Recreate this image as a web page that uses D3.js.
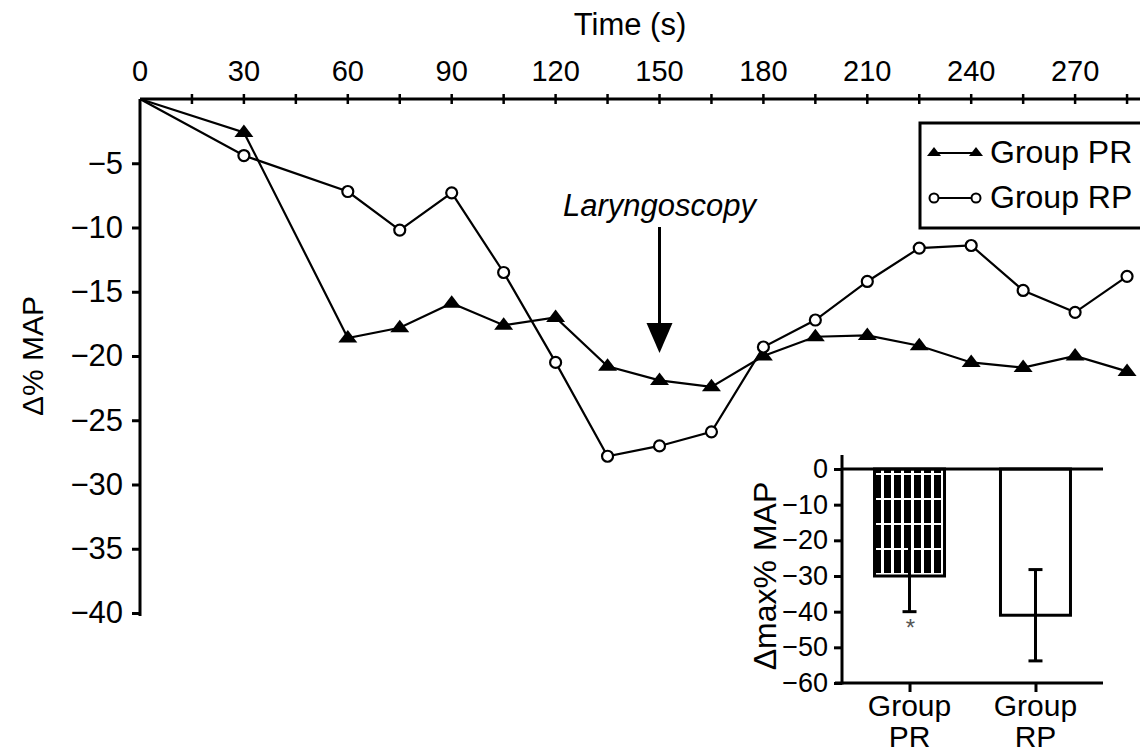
<!DOCTYPE html>
<html>
<head>
<meta charset="utf-8">
<script src="https://cdn.jsdelivr.net/npm/d3@7"></script>
<style>
  body { margin: 0; background: #fff; }
  svg { display: block; }
  text { font-family: "Liberation Sans", Arial, Helvetica, sans-serif; fill: #000; }
</style>
</head>
<body>
<svg id="chart" width="1140" height="754"></svg>
<script>
// ---- Main panel data: change in mean arterial pressure over time ----
const times   = [0, 30, 60, 75, 90, 105, 120, 135, 150, 165, 180, 195, 210, 225, 240, 255, 270, 285];
const groupPR = [0, -2.6, -18.6, -17.8, -15.9, -17.6, -17.0, -20.8, -21.9, -22.4, -20.0, -18.5, -18.4, -19.2, -20.5, -20.9, -20.0, -21.2];
const groupRP = [0, -4.4, -7.2, -10.2, -7.3, -13.5, -20.5, -27.8, -27.0, -25.9, -19.3, -17.2, -14.2, -11.6, -11.4, -14.9, -16.6, -13.8];
const seriesNames = ["Group PR", "Group RP"];
const xTickValues = [15, 30, 45, 60, 75, 90, 105, 120, 135, 150, 165, 180, 195, 210, 225, 240, 255, 270, 285];
const xTickLabels = [0, 30, 60, 90, 120, 150, 180, 210, 240, 270];
const yTickValues = [-5, -10, -15, -20, -25, -30, -35, -40];
const annotationTime = 150;
const annotationText = "Laryngoscopy";

// ---- Inset data: maximal change in MAP (mean, SD) ----
const insetGroups = ["Group PR", "Group RP"];
const insetMeans  = [-30, -41];
const insetSD     = [10, 12.8];
const insetTicks  = [0, -10, -20, -30, -40, -50, -60];

const svg = d3.select("#chart");
const fmtMinus = d => d < 0 ? "\u2212" + Math.abs(d) : String(d);

// Scales
const x = d3.scaleLinear().domain([0, 300]).range([140, 1179]);
const y = d3.scaleLinear().domain([0, -40]).range([99, 613]);

// Top time axis
const xAxisG = svg.append("g").attr("transform", `translate(0,${y(0)})`);
xAxisG.append("line")
  .attr("x1", x(0)).attr("x2", 1140)
  .attr("y1", 0).attr("y2", 0)
  .attr("stroke", "#000").attr("stroke-width", 3);
xAxisG.selectAll("line.tick").data(xTickValues).join("line")
  .attr("class", "tick")
  .attr("x1", d => x(d)).attr("x2", d => x(d))
  .attr("y1", -5).attr("y2", 5)
  .attr("stroke", "#000").attr("stroke-width", 2.5);
xAxisG.selectAll("text.tl").data(xTickLabels).join("text")
  .attr("class", "tl")
  .attr("x", d => x(d)).attr("y", -18)
  .attr("text-anchor", "middle")
  .style("font-size", "29px")
  .text(d => d);
svg.append("text")
  .attr("x", 630).attr("y", 35)
  .attr("text-anchor", "middle")
  .style("font-size", "31px")
  .text("Time (s)");

// Left MAP axis
const yAxis = d3.axisLeft(y).tickValues(yTickValues).tickSize(8).tickPadding(9).tickFormat(fmtMinus);
const yAxisG = svg.append("g").attr("transform", `translate(${x(0)},0)`).call(yAxis);
yAxisG.select(".domain").remove();
yAxisG.selectAll(".tick line").attr("stroke", "#000").attr("stroke-width", 3);
yAxisG.selectAll(".tick text").style("font-size", "31px").attr("fill", "#000");
yAxisG.append("line")
  .attr("x1", 0).attr("x2", 0)
  .attr("y1", y(0)).attr("y2", y(-40) + 3)
  .attr("stroke", "#000").attr("stroke-width", 3);
svg.append("text")
  .attr("transform", `translate(43,${y(-20)}) rotate(-90)`)
  .attr("text-anchor", "middle")
  .style("font-size", "30px")
  .text("\u0394% MAP");

// Series lines and markers
const triangle = "M0,-8L9.5,4.5L-9.5,4.5Z";
const line = d3.line().x(d => x(d.t)).y(d => y(d.v));
const prData = times.map((t, i) => ({ t, v: groupPR[i] }));
const rpData = times.map((t, i) => ({ t, v: groupRP[i] }));

svg.append("path").datum(rpData).attr("d", line)
  .attr("fill", "none").attr("stroke", "#000").attr("stroke-width", 2.2);
svg.append("path").datum(prData).attr("d", line)
  .attr("fill", "none").attr("stroke", "#000").attr("stroke-width", 2.2);

svg.selectAll("path.pr").data(prData.filter(d => d.t > 0)).join("path")
  .attr("class", "pr")
  .attr("d", triangle)
  .attr("transform", d => `translate(${x(d.t)},${y(d.v)})`)
  .attr("fill", "#000");
svg.selectAll("circle.rp").data(rpData.filter(d => d.t > 0)).join("circle")
  .attr("class", "rp")
  .attr("cx", d => x(d.t)).attr("cy", d => y(d.v)).attr("r", 5.5)
  .attr("fill", "#fff").attr("stroke", "#000").attr("stroke-width", 2.2);

// Laryngoscopy annotation arrow
const ax = x(annotationTime);
svg.append("text")
  .attr("x", ax).attr("y", 216)
  .attr("text-anchor", "middle")
  .style("font-size", "31px").style("font-style", "italic")
  .text(annotationText);
svg.append("line")
  .attr("x1", ax).attr("x2", ax).attr("y1", 227).attr("y2", 326)
  .attr("stroke", "#000").attr("stroke-width", 3);
svg.append("path")
  .attr("d", `M${ax - 13},323L${ax + 13},323L${ax},353Z`)
  .attr("fill", "#000");

// Legend
const lg = svg.append("g");
lg.append("rect")
  .attr("x", 920).attr("y", 123).attr("width", 240).attr("height", 105)
  .attr("fill", "#fff").attr("stroke", "#000").attr("stroke-width", 3);
const rows = lg.selectAll("g.row").data(seriesNames).join("g")
  .attr("class", "row")
  .attr("transform", (d, i) => `translate(0,${153 + i * 45})`);
rows.append("line")
  .attr("x1", 934).attr("x2", 976).attr("y1", 0).attr("y2", 0)
  .attr("stroke", "#000").attr("stroke-width", 2);
rows.each(function (d, i) {
  const g = d3.select(this);
  [934, 976].forEach(cx => {
    if (i === 0) {
      g.append("path").attr("d", "M0,-6L7,3L-7,3Z")
        .attr("transform", `translate(${cx},0)`).attr("fill", "#000");
    } else {
      g.append("circle").attr("cx", cx).attr("cy", 0).attr("r", 4.5)
        .attr("fill", "#fff").attr("stroke", "#000").attr("stroke-width", 2);
    }
  });
});
rows.append("text")
  .attr("x", 990).attr("y", 10)
  .style("font-size", "32px")
  .text(d => d);

// ---- Inset bar chart ----
const defs = svg.append("defs");
const pat = defs.append("pattern")
  .attr("id", "stripes").attr("patternUnits", "userSpaceOnUse")
  .attr("x", 878).attr("y", 470)
  .attr("width", 10).attr("height", 25);
pat.append("rect").attr("width", 10).attr("height", 25).attr("fill", "#000");
pat.append("rect").attr("x", 3).attr("y", 0).attr("width", 3).attr("height", 25).attr("fill", "#fff");
pat.append("rect").attr("x", 0).attr("y", 3).attr("width", 10).attr("height", 2).attr("fill", "#fff");

const ix = d3.scalePoint().domain(insetGroups).range([842, 1103]).padding(0.536);
const iy = d3.scaleLinear().domain([0, -60]).range([469, 683]);
const barW = 70;

// bars
svg.selectAll("rect.bar").data(insetGroups).join("rect")
  .attr("class", "bar")
  .attr("x", d => ix(d) - barW / 2)
  .attr("y", iy(0))
  .attr("width", barW)
  .attr("height", (d, i) => iy(insetMeans[i]) - iy(0))
  .attr("fill", (d, i) => i === 0 ? "url(#stripes)" : "#fff")
  .attr("stroke", "#000").attr("stroke-width", 3);

// error bars
insetGroups.forEach((g, i) => {
  const cx = ix(g);
  const top = iy(insetMeans[i] + insetSD[i]);
  const bot = iy(insetMeans[i] - insetSD[i]);
  svg.append("line").attr("x1", cx).attr("x2", cx).attr("y1", top).attr("y2", bot)
    .attr("stroke", "#000").attr("stroke-width", 3);
  svg.append("line").attr("x1", cx - 7).attr("x2", cx + 7).attr("y1", bot).attr("y2", bot)
    .attr("stroke", "#000").attr("stroke-width", 3);
  if (i === 1) {
    svg.append("line").attr("x1", cx - 7).attr("x2", cx + 7).attr("y1", top).attr("y2", top)
      .attr("stroke", "#000").attr("stroke-width", 3);
  }
});
svg.append("text")
  .attr("x", ix(insetGroups[0]) + 1).attr("y", iy(insetMeans[0] - insetSD[0]) + 24)
  .attr("text-anchor", "middle")
  .style("font-size", "24px").style("fill", "#555")
  .text("*");

// zero line
svg.append("line")
  .attr("x1", 842).attr("x2", 1103).attr("y1", iy(0)).attr("y2", iy(0))
  .attr("stroke", "#000").attr("stroke-width", 3);

// inset y axis
const iyAxis = d3.axisLeft(iy).tickValues(insetTicks).tickSize(8).tickPadding(6).tickFormat(fmtMinus);
const iyG = svg.append("g").attr("transform", "translate(842,0)").call(iyAxis);
iyG.select(".domain").remove();
iyG.selectAll(".tick line").attr("stroke", "#000").attr("stroke-width", 3);
iyG.selectAll(".tick text").style("font-size", "27px").attr("fill", "#000");
iyG.append("line").attr("x1", 0).attr("x2", 0).attr("y1", 455).attr("y2", iy(-60) + 1.5)
  .attr("stroke", "#000").attr("stroke-width", 3);
svg.append("text")
  .attr("transform", `translate(776,${iy(-30)}) rotate(-90)`)
  .attr("text-anchor", "middle")
  .style("font-size", "32px")
  .text("\u0394max% MAP");

// inset x axis
const ixAxis = d3.axisBottom(ix).tickSize(9).tickFormat("");
const ixG = svg.append("g").attr("transform", `translate(0,${iy(-60)})`).call(ixAxis);
ixG.select(".domain").remove();
ixG.selectAll(".tick line").attr("stroke", "#000").attr("stroke-width", 3);
ixG.append("line").attr("x1", 835).attr("x2", 1103).attr("y1", 0).attr("y2", 0)
  .attr("stroke", "#000").attr("stroke-width", 3);
ixG.selectAll("text.cat").data(insetGroups).join("text")
  .attr("class", "cat")
  .attr("x", d => ix(d))
  .attr("text-anchor", "middle")
  .style("font-size", "30px")
  .each(function (d) {
    const parts = d.split(" ");
    const t = d3.select(this);
    t.append("tspan").attr("x", ix(d)).attr("y", 33).text(parts[0]);
    t.append("tspan").attr("x", ix(d)).attr("y", 64).text(parts[1]);
  });
</script>
</body>
</html>
